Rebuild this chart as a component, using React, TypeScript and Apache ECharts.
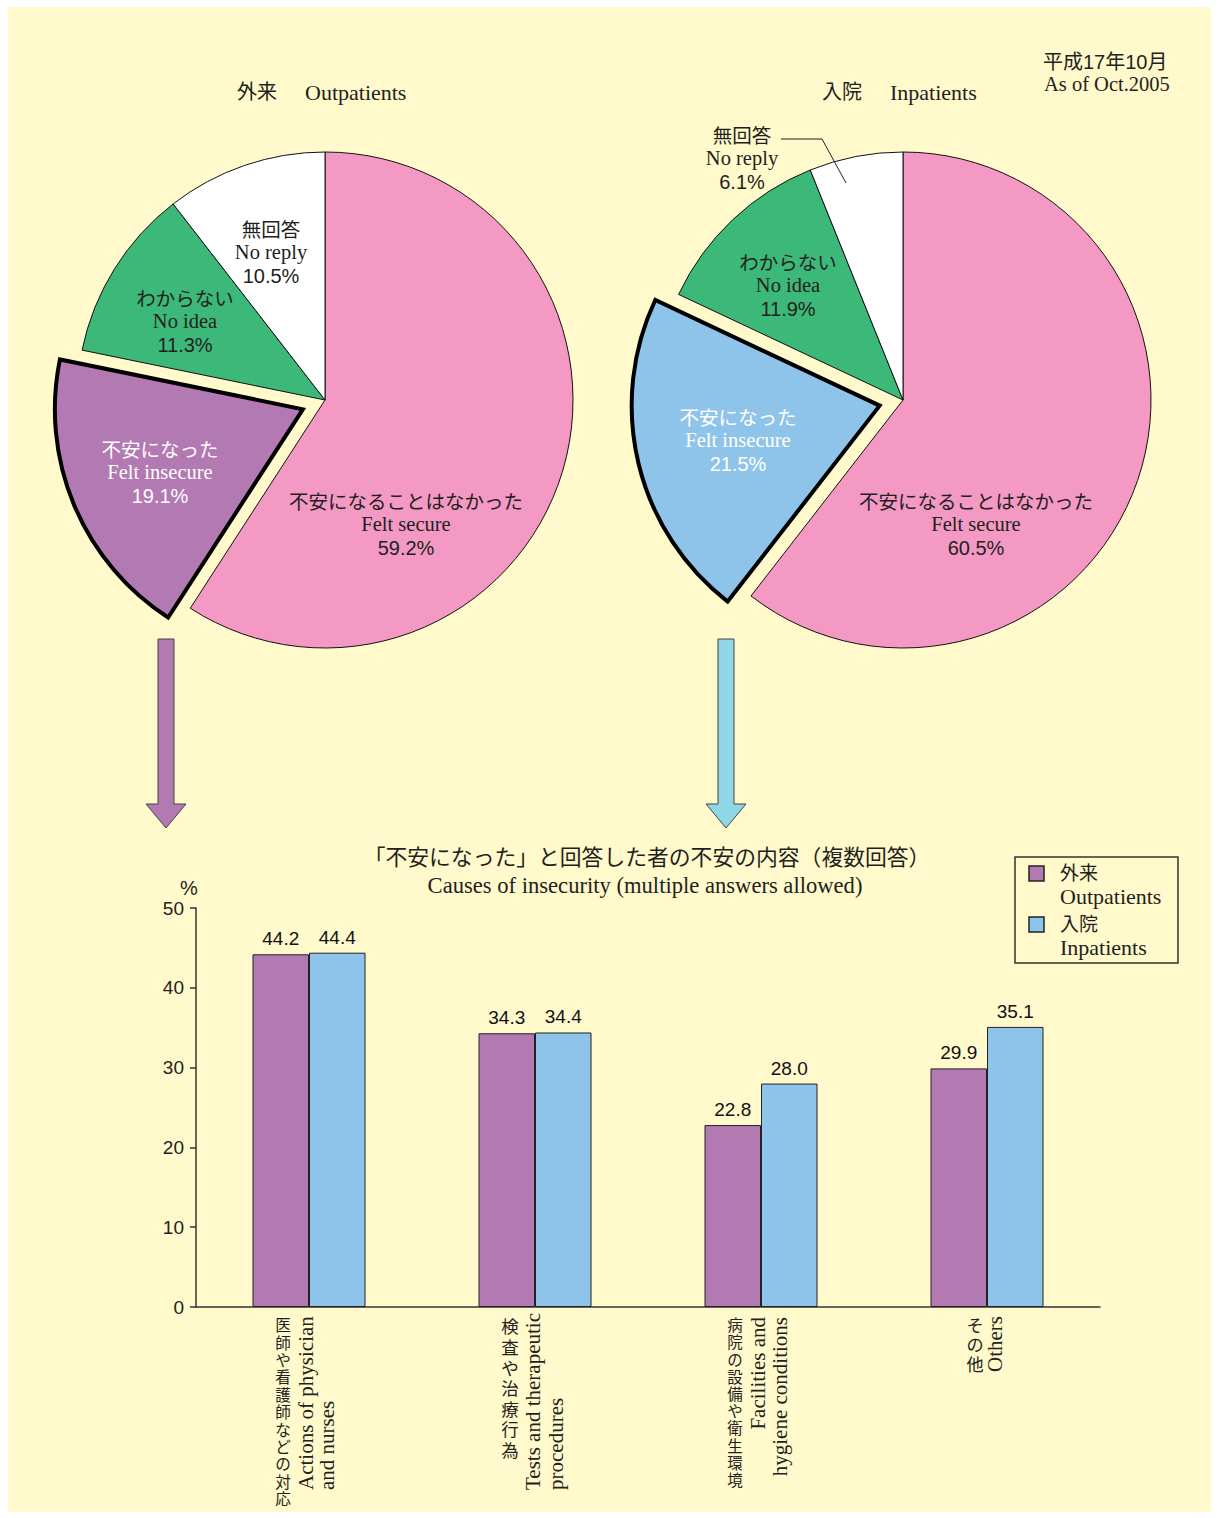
import React, { useEffect, useRef } from 'react';
import * as echarts from 'echarts';

// ---------- data ----------
const sliceNamesJa = ['不安になることはなかった', '不安になった', 'わからない', '無回答'];
const sliceNamesEn = ['Felt secure', 'Felt insecure', 'No idea', 'No reply'];
const outpatientShares = [59.2, 19.1, 11.3, 10.5];
const inpatientShares = [60.5, 21.5, 11.9, 6.1];

const causeNamesJa = ['医師や看護師などの対応', '検査や治療行為', '病院の設備や衛生環境', 'その他'];
const causeNamesEn = [
  ['Actions of physician', 'and nurses'],
  ['Tests and therapeutic', 'procedures'],
  ['Facilities and', 'hygiene conditions'],
  ['Others'],
];
const outpatientCauses = [44.2, 34.3, 22.8, 29.9];
const inpatientCauses = [44.4, 34.4, 28.0, 35.1];
const yTickMin = 0;
const yTickMax = 50;
const yTickStep = 10;

const seriesNamesJa = ['外来', '入院'];
const seriesNamesEn = ['Outpatients', 'Inpatients'];

// ---------- layout / style ----------
const FONT_JP = "'Liberation Sans', 'Noto Sans CJK JP', 'Noto Sans CJK SC', sans-serif";
const FONT_JP_TIGHT = "'Liberation Serif', 'Noto Sans CJK JP', sans-serif";
const FONT_SERIF = "'Liberation Serif', 'Times New Roman', serif";
const FONT_SANS = "'Liberation Sans', Arial, sans-serif";
const INK = '#231F20';

const PURPLE = '#B279B2';
const BLUE = '#8FC4EA';
const CYAN = '#8FD6E6';
const PINK = '#F399C3';
const GREEN = '#3CB878';
const BG = '#FFF9CC';

const outColors = [PINK, PURPLE, GREEN, '#FFFFFF'];
const inColors = [PINK, BLUE, GREEN, '#FFFFFF'];
const outLabelPos = [[406, 502], [160, 450], [185, 299], [271, 230]];
const inLabelPos = [[976, 502], [738, 418], [788, 263], [742, 136]];

const jpColX = [283, 510, 735, 975];
const jpLineH = [17.4, 20.6, 17.2, 19.3];
const jpFontSize = [15.6, 17.5, 15.5, 17.2];
const enColX = [[306, 327], [533, 556], [758, 780], [995]];
const enAnchor = [
  { y: 1490, align: 'left' },
  { y: 1490, align: 'left' },
  { y: 1317, align: 'right' },
  { y: 1316, align: 'right' },
];

function txt(text: string, x: number, y: number, size: number, family: string, extra: any = {}) {
  const { align = 'center', verticalAlign = 'middle', fill = INK, rotation, ...rest } = extra;
  const el: any = {
    type: 'text',
    x,
    y,
    z: 50,
    silent: true,
    style: { text, fill, fontSize: size, fontFamily: family, align, verticalAlign, ...rest },
  };
  if (rotation !== undefined) el.rotation = rotation;
  return el;
}

function pieSeries(values: number[], colors: string[], center: number[], name: string) {
  return {
    type: 'pie',
    name,
    center,
    radius: 248,
    startAngle: 90,
    clockwise: true,
    selectedMode: 'single',
    selectedOffset: 24,
    label: { show: false },
    labelLine: { show: false },
    emphasis: { disabled: true },
    data: values.map((v, i) => {
      const style = {
        color: colors[i],
        borderColor: i === 1 ? '#000' : '#111',
        borderWidth: i === 1 ? 4 : 1,
        borderJoin: 'miter',
      };
      return {
        value: v,
        name: sliceNamesEn[i],
        selected: i === 1,
        itemStyle: style,
        select: { itemStyle: style },
      };
    }),
  };
}

function pieLabels(values: number[], pos: number[][]) {
  const out: any[] = [];
  values.forEach((v, i) => {
    const [x, y] = pos[i];
    const fill = i === 1 ? '#FFFFFF' : INK;
    out.push(txt(sliceNamesJa[i], x, y - 0.5, 19.5, FONT_JP, { fill }));
    out.push(txt(sliceNamesEn[i], x, y + 22, 20.5, FONT_SERIF, { fill }));
    out.push(txt(v.toFixed(1) + '%', x, y + 45.5, 20, FONT_SANS, { fill }));
  });
  return out;
}

export default function App() {
  const ref = useRef<HTMLDivElement>(null);

  useEffect(() => {
    if (!ref.current) return;
    const chart = echarts.init(ref.current, null, { renderer: 'svg' });

    const graphics: any[] = [];
    graphics.push({
      type: 'rect',
      z: -10,
      silent: true,
      shape: { x: 8, y: 7, width: 1203, height: 1505 },
      style: { fill: BG },
    });

    // headings
    graphics.push(txt('外来', 237, 92, 20, FONT_JP, { align: 'left' }));
    graphics.push(txt('Outpatients', 305, 92, 22, FONT_SERIF, { align: 'left' }));
    graphics.push(txt('入院', 822, 92, 20, FONT_JP, { align: 'left' }));
    graphics.push(txt('Inpatients', 890, 92, 22, FONT_SERIF, { align: 'left' }));
    graphics.push(txt('平成17年10月', 1043, 62, 20, FONT_JP, { align: 'left' }));
    graphics.push(txt('As of Oct.2005', 1044, 84, 20.5, FONT_SERIF, { align: 'left' }));

    // pie labels
    graphics.push(...pieLabels(outpatientShares, outLabelPos));
    graphics.push(...pieLabels(inpatientShares, inLabelPos));
    graphics.push({
      type: 'polyline',
      z: 50,
      silent: true,
      shape: { points: [[781, 139], [822, 139], [846, 183]] },
      style: { stroke: '#222', lineWidth: 1, fill: 'none' },
    });

    // arrows
    const arrow = (cx: number, color: string) => ({
      type: 'polygon',
      z: 50,
      silent: true,
      shape: {
        points: [
          [cx - 8, 639], [cx + 8, 639], [cx + 8, 804], [cx + 20, 804],
          [cx, 828], [cx - 20, 804], [cx - 8, 804],
        ],
      },
      style: { fill: color, stroke: '#444', lineWidth: 1 },
    });
    graphics.push(arrow(166, PURPLE));
    graphics.push(arrow(726, CYAN));

    // bar chart title & unit
    graphics.push(txt('「不安になった」と回答した者の不安の内容（複数回答）', 647, 857, 21.8, FONT_JP));
    graphics.push(txt('Causes of insecurity (multiple answers allowed)', 645, 885, 22.6, FONT_SERIF));
    graphics.push(txt('%', 189, 888, 20, FONT_SANS));

    // legend
    graphics.push({
      type: 'rect',
      z: 50,
      silent: true,
      shape: { x: 1015, y: 857, width: 163, height: 106 },
      style: { fill: 'none', stroke: '#333', lineWidth: 1.5 },
    });
    [PURPLE, BLUE].forEach((c, i) => {
      const y0 = 866 + i * 51;
      graphics.push({
        type: 'rect',
        z: 50,
        silent: true,
        shape: { x: 1029, y: y0, width: 15, height: 15 },
        style: { fill: c, stroke: '#222', lineWidth: 1.5 },
      });
      graphics.push(txt(seriesNamesJa[i], 1060, y0 + 7.5, 19, FONT_JP, { align: 'left' }));
      graphics.push(txt(seriesNamesEn[i], 1060, y0 + 30.5, 22, FONT_SERIF, { align: 'left' }));
    });

    // category labels (vertical: Japanese upright, one character per line; English rotated)
    causeNamesJa.forEach((name, i) => {
      name.split('').forEach((ch, k) => {
        graphics.push(
          txt(ch, jpColX[i], 1317 + jpLineH[i] * (k + 0.5), jpFontSize[i], FONT_JP_TIGHT)
        );
      });
      causeNamesEn[i].forEach((line, j) => {
        graphics.push(
          txt(line, enColX[i][j], enAnchor[i].y, 21, FONT_SERIF, {
            align: enAnchor[i].align,
            rotation: Math.PI / 2,
          })
        );
      });
    });

    const barLabel = {
      show: true,
      position: 'top',
      distance: 6,
      fontSize: 19,
      fontFamily: FONT_SANS,
      color: '#111',
      formatter: (p: any) => Number(p.value).toFixed(1),
    };

    chart.setOption({
      animation: false,
      backgroundColor: '#FFFFFF',
      grid: { left: 196, right: 119, top: 908, bottom: 211, containLabel: false },
      xAxis: {
        type: 'category',
        data: causeNamesJa,
        boundaryGap: true,
        axisLine: { show: true, lineStyle: { color: '#333', width: 1.5 } },
        axisTick: { show: false },
        axisLabel: { show: false },
        splitLine: { show: false },
      },
      yAxis: {
        type: 'value',
        min: yTickMin,
        max: yTickMax,
        interval: yTickStep,
        axisLine: { show: true, lineStyle: { color: '#333', width: 1.5 } },
        axisTick: { show: true, inside: false, length: 6, lineStyle: { color: '#333', width: 1.5 } },
        axisLabel: { fontSize: 19, fontFamily: FONT_SANS, color: '#222', margin: 12 },
        splitLine: { show: false },
      },
      series: [
        pieSeries(outpatientShares, outColors, [325, 400], '外来 Outpatients'),
        pieSeries(inpatientShares, inColors, [903, 400], '入院 Inpatients'),
        {
          type: 'bar',
          name: seriesNamesJa[0] + ' ' + seriesNamesEn[0],
          data: outpatientCauses,
          barWidth: 56.5,
          barGap: '0%',
          itemStyle: { color: PURPLE, borderColor: '#222', borderWidth: 1 },
          emphasis: { disabled: true },
          label: barLabel,
        },
        {
          type: 'bar',
          name: seriesNamesJa[1] + ' ' + seriesNamesEn[1],
          data: inpatientCauses,
          barWidth: 56.5,
          barGap: '0%',
          itemStyle: { color: BLUE, borderColor: '#222', borderWidth: 1 },
          emphasis: { disabled: true },
          label: barLabel,
        },
      ],
      graphic: { elements: graphics },
    });

    return () => chart.dispose();
  }, []);

  return (
    <div
      ref={ref}
      style={{ position: 'absolute', left: 0, top: 0, width: 1219, height: 1518 }}
    />
  );
}
